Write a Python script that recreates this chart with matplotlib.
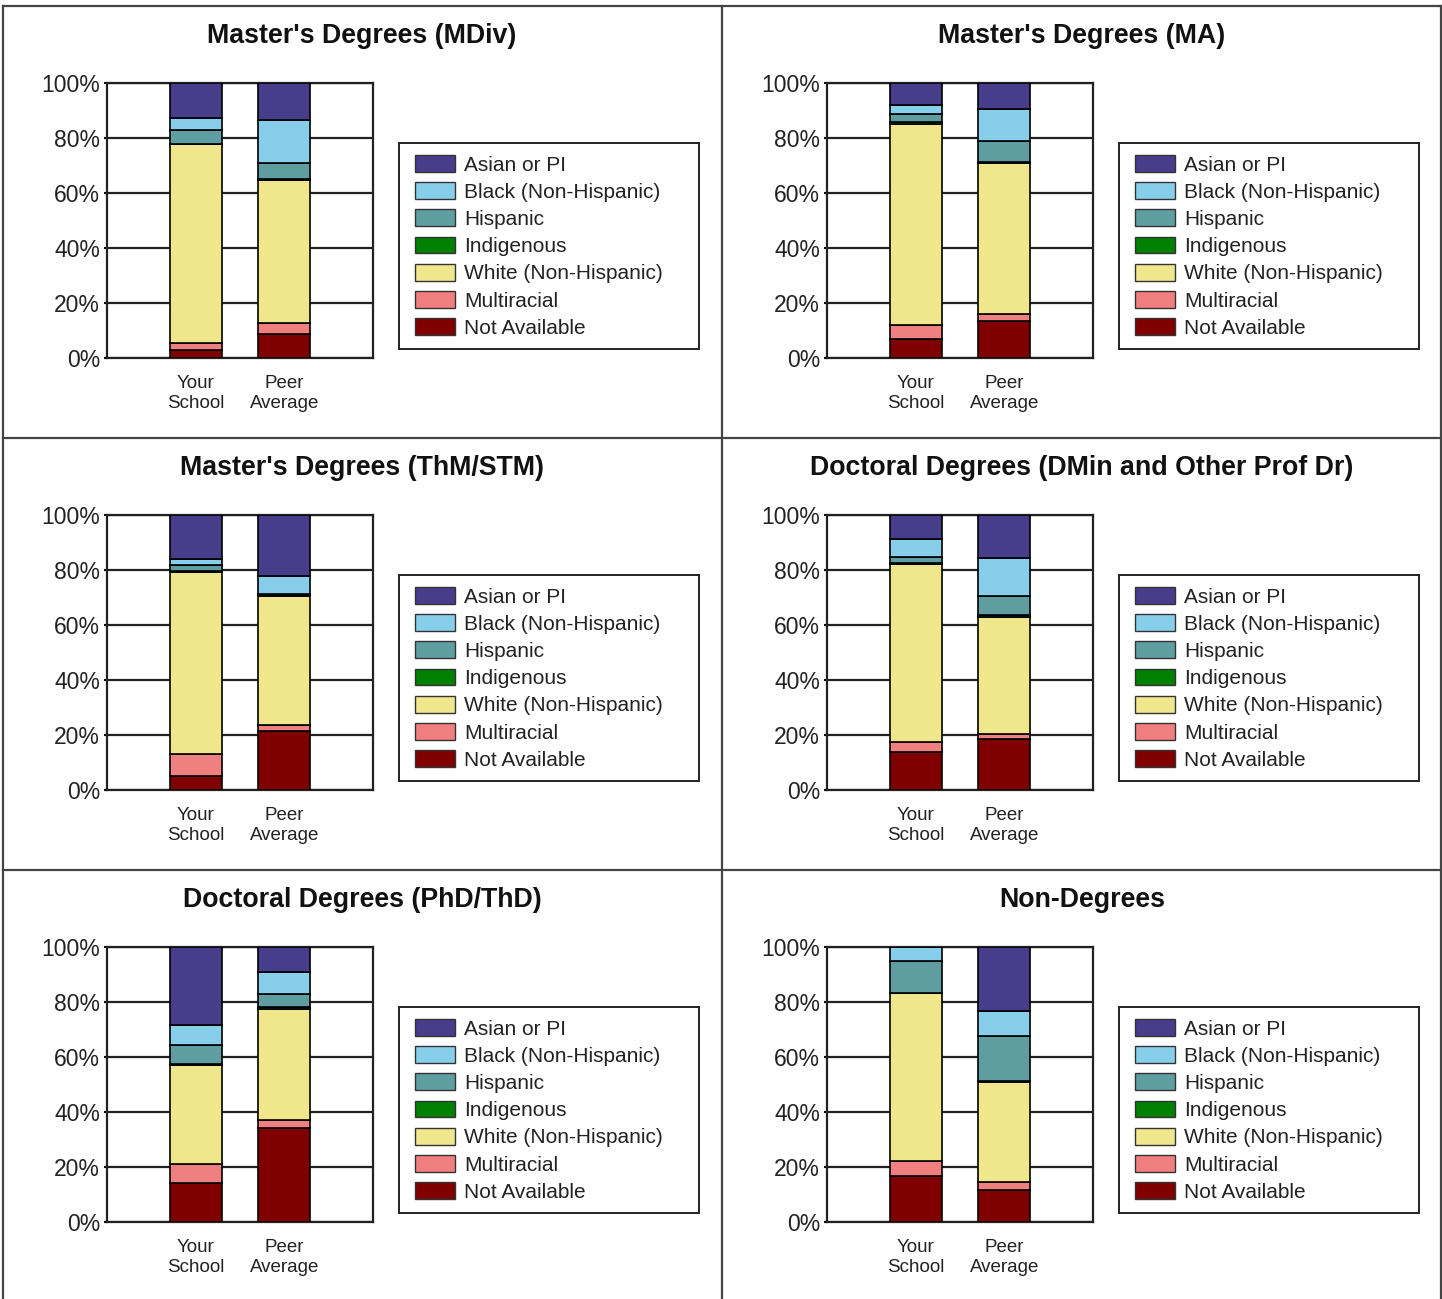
import matplotlib
matplotlib.use("Agg")
import matplotlib.pyplot as plt
import numpy as np
from matplotlib.lines import Line2D
from matplotlib.patches import Rectangle, Patch

plt.rcParams['font.family'] = ['Liberation Sans', 'DejaVu Sans']

# legend order (top of the stack first)
races = ['Asian or PI', 'Black (Non-Hispanic)', 'Hispanic', 'Indigenous',
         'White (Non-Hispanic)', 'Multiracial', 'Not Available']
colors = ['#483D8B', '#87CEEB', '#5F9EA0', '#008000', '#F0E68C', '#F08080', '#800000']
bar_labels = ['Your\nSchool', 'Peer\nAverage']
yticks = [0, 20, 40, 60, 80, 100]

titles = ["Master's Degrees (MDiv)", "Master's Degrees (MA)",
          "Master's Degrees (ThM/STM)", "Doctoral Degrees (DMin and Other Prof Dr)",
          "Doctoral Degrees (PhD/ThD)", "Non-Degrees"]

# percentages, same order as races
mdiv_your = [12.7, 4.3, 5.0, 0.3, 72.2, 2.5, 3.0]
mdiv_peer = [13.3, 15.7, 5.8, 0.6, 52.0, 4.0, 8.6]
ma_your = [8.1, 3.1, 3.0, 0.6, 73.2, 5.1, 6.9]
ma_peer = [9.4, 11.7, 7.6, 0.5, 54.7, 2.8, 13.3]
thm_your = [16.0, 2.3, 2.2, 0.4, 65.9, 8.1, 5.1]
thm_peer = [22.1, 6.6, 0.3, 0.4, 46.8, 2.4, 21.4]
dmin_your = [8.8, 6.3, 2.3, 0.4, 64.6, 3.7, 13.9]
dmin_peer = [15.5, 13.9, 7.1, 0.6, 42.4, 2.1, 18.4]
phd_your = [28.5, 7.3, 6.7, 0.4, 36.0, 6.9, 14.2]
phd_peer = [9.1, 8.0, 4.7, 0.6, 40.4, 3.0, 34.2]
non_your = [0.0, 5.2, 11.5, 0.0, 61.2, 5.5, 16.6]
non_peer = [23.4, 8.8, 16.4, 0.6, 36.2, 3.0, 11.6]

panels = [(mdiv_your, mdiv_peer), (ma_your, ma_peer),
          (thm_your, thm_peer), (dmin_your, dmin_peer),
          (phd_your, phd_peer), (non_your, non_peer)]

W, H = 1442, 1299
fig = plt.figure(figsize=(W / 100, H / 100), dpi=100)


def fx(px):
    return px / W


def fy(py):
    return 1 - py / H


# panel border lines
line_kw = dict(color='#444444', lw=1.6, transform=fig.transFigure)
fig.add_artist(Line2D([fx(3), fx(1441)], [fy(6), fy(6)], **line_kw))
for yy in (438, 870):
    fig.add_artist(Line2D([fx(3), fx(1441)], [fy(yy), fy(yy)], **line_kw))
for xx in (3, 722, 1441):
    fig.add_artist(Line2D([fx(xx), fx(xx)], [fy(6), fy(1299)], **line_kw))

for i, (title, (your, peer)) in enumerate(zip(titles, panels)):
    col, row = i % 2, i // 2
    dx, dy = col * 720, row * 432

    ax = fig.add_axes([fx(107 + dx), fy(358 + dy), 266 / W, 275 / H])
    data = np.array([your, peer])
    bottom = np.zeros(2)
    # stack from the bottom: Not Available first
    for k in range(len(races) - 1, -1, -1):
        ax.bar([0, 1], data[:, k], bottom=bottom, width=0.585, color=colors[k],
               edgecolor='black', linewidth=1.2, zorder=3)
        bottom += data[:, k]

    ax.set_xlim(-1, 2)
    ax.set_ylim(0, 100)
    ax.set_yticks(yticks)
    ax.set_yticklabels([f'{t}%' for t in yticks], fontsize=16.5, color='#222222')
    ax.set_xticks([0, 1])
    ax.set_xticklabels(bar_labels, fontsize=13.5, color='#222222', linespacing=1.25)
    ax.tick_params(axis='y', length=2, width=1.5, pad=3)
    ax.tick_params(axis='x', length=0, pad=12)
    ax.yaxis.grid(True, color='#222222', lw=1.6)
    ax.set_axisbelow(True)
    for sp in ax.spines.values():
        sp.set_linewidth(1.6)
        sp.set_color('#222222')

    fig.text(fx(362 + dx), fy(36 + dy), title, ha='center', va='center',
             fontsize=19.3, fontweight='bold', color='#111111')

    # legend frame drawn separately
    fig.add_artist(Rectangle((fx(399 + dx), fy(349 + dy)), 300 / W, 206 / H,
                             transform=fig.transFigure, fill=False,
                             edgecolor='#222222', lw=1.4))
    handles = [Patch(facecolor=c, edgecolor='#333333', lw=1.0) for c in colors]
    fig.legend(handles, races, loc='upper left',
               bbox_to_anchor=(fx(415 + dx), fy(155 + dy)),
               bbox_transform=fig.transFigure, frameon=False, fontsize=15,
               borderpad=0, borderaxespad=0, handlelength=1.9, handleheight=0.85,
               handletextpad=0.45, labelspacing=0.37, labelcolor='#222222')

fig.savefig('out.png', dpi=100)
